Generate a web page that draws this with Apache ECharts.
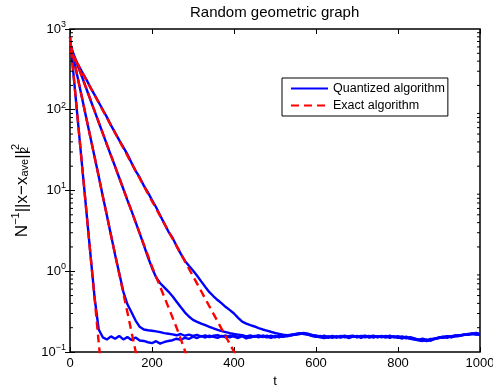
<!DOCTYPE html>
<html><head><meta charset="utf-8">
<script src="https://cdn.jsdelivr.net/npm/echarts@6/dist/echarts.min.js"></script>
<style>html,body{margin:0;padding:0;background:#fff}#c{width:493px;height:387px}</style>
</head><body><div id="c"></div>
<script>
const titleText = 'Random geometric graph';
const xName = 't';
const seriesNames = ['Quantized algorithm', 'Exact algorithm'];
const xTicks = [0, 200, 400, 600, 800, 1000];
const yMajorTicks = [0.1, 1, 10, 100, 1000];
const yMinorTicks = [0.2,0.3,0.4,0.5,0.6,0.7,0.8,0.9, 2,3,4,5,6,7,8,9, 20,30,40,50,60,70,80,90, 200,300,400,500,600,700,800,900];

const tQ = [0,10,20,30,40,50,60,70,80,90,
  100,110,120,130,140,150,160,170,180,190,
  200,210,220,230,240,250,260,270,280,290,
  300,310,320,330,340,350,360,370,380,390,
  400,410,420,430,440,450,460,470,480,490,
  500,510,520,530,540,550,560,570,580,590,
  600,610,620,630,640,650,660,670,680,690,
  700,710,720,730,740,750,760,770,780,790,
  800,810,820,830,840,850,860,870,880,890,
  900,910,920,930,940,950,960,970,980,990,
  1000];

const quantA = [800,229,66,19,5.5,1.6,0.47,0.19,0.152,0.143,
  0.156,0.146,0.158,0.143,0.153,0.141,0.151,0.139,0.137,0.132,
  0.129,0.136,0.127,0.133,0.137,0.140,0.146,0.141,0.150,0.145,
  0.155,0.149,0.158,0.151,0.160,0.154,0.150,0.158,0.152,0.160,
  0.155,0.149,0.157,0.147,0.154,0.158,0.152,0.160,0.155,0.150,
  0.158,0.152,0.160,0.156,0.163,0.163,0.168,0.169,0.164,0.160,
  0.156,0.152,0.149,0.156,0.150,0.157,0.151,0.156,0.149,0.155,
  0.157,0.150,0.156,0.158,0.151,0.157,0.152,0.158,0.150,0.156,
  0.152,0.148,0.155,0.147,0.145,0.142,0.141,0.138,0.145,0.146,
  0.152,0.155,0.150,0.157,0.160,0.160,0.165,0.165,0.170,0.164,
  0.163];
const quantB = [708,400,234,135,78,45,26,15,8.5,4.9,
  2.8,1.6,0.95,0.56,0.39,0.31,0.245,0.205,0.19,0.186,
  0.183,0.180,0.176,0.171,0.168,0.165,0.161,0.167,0.159,0.164,
  0.158,0.163,0.155,0.161,0.153,0.159,0.162,0.155,0.160,0.152,
  0.159,0.154,0.161,0.156,0.151,0.157,0.161,0.156,0.152,0.159,
  0.154,0.160,0.155,0.162,0.163,0.167,0.171,0.167,0.164,0.158,
  0.154,0.158,0.152,0.150,0.156,0.151,0.158,0.152,0.157,0.159,
  0.153,0.158,0.152,0.156,0.159,0.153,0.158,0.154,0.159,0.152,
  0.157,0.152,0.148,0.153,0.147,0.142,0.146,0.141,0.138,0.146,
  0.150,0.151,0.156,0.152,0.158,0.159,0.163,0.164,0.168,0.167,
  0.166];
const quantC = [645,470,340,250,182,132,96,70,51,37,
  27,19.8,14.4,10.5,7.6,5.6,4.05,2.95,2.1,1.5,
  1.1,0.84,0.71,0.63,0.56,0.49,0.42,0.36,0.31,0.275,
  0.25,0.236,0.224,0.215,0.205,0.196,0.188,0.181,0.176,0.171,
  0.167,0.164,0.161,0.156,0.161,0.154,0.159,0.153,0.160,0.154,
  0.152,0.158,0.154,0.160,0.160,0.166,0.167,0.172,0.166,0.163,
  0.157,0.154,0.159,0.153,0.158,0.152,0.156,0.159,0.153,0.157,
  0.152,0.157,0.159,0.153,0.157,0.152,0.156,0.151,0.157,0.153,
  0.150,0.156,0.151,0.146,0.143,0.140,0.137,0.142,0.142,0.147,
  0.149,0.154,0.157,0.153,0.159,0.162,0.162,0.167,0.167,0.172,
  0.168];
const quantD = [550,445,360,290,237,188,153,124,100,81,
  64,52,42,34.5,28,22,17.5,14.5,11.5,9.5,
  7.6,6.2,4.9,3.9,3.1,2.6,2.05,1.65,1.35,1.17,
  1.02,0.88,0.75,0.64,0.55,0.49,0.44,0.40,0.36,0.33,
  0.30,0.265,0.238,0.225,0.215,0.207,0.198,0.190,0.184,0.178,
  0.172,0.168,0.164,0.161,0.164,0.165,0.170,0.171,0.169,0.162,
  0.160,0.155,0.153,0.155,0.154,0.154,0.153,0.155,0.154,0.154,
  0.158,0.153,0.157,0.151,0.156,0.156,0.154,0.155,0.155,0.156,
  0.153,0.148,0.152,0.147,0.146,0.141,0.141,0.136,0.143,0.145,
  0.150,0.150,0.155,0.156,0.157,0.158,0.163,0.163,0.167,0.168,
  0.165];

const tExA = [0,10,20,30,40,50,60,70,80];
const exactA = [800,229,66,19,5.5,1.58,0.46,0.132,0.038];
const tExB = [0,20,40,60,80,100,120,140,160,180];
const exactB = [708,234,78,26,8.5,2.8,0.93,0.31,0.102,0.034];
const tExC = [0,40,80,120,160,200,240,260,280,300];
const exactC = [645,182,51,14.4,4.05,1.14,0.36,0.2,0.105,0.045];
const tExD = [0,50,100,150,200,250,300,350,400,450];
const exactD = [550,188,64,21.8,7.4,2.54,0.87,0.296,0.101,0.034];

const FONT = '"Liberation Sans", Arial, Helvetica, sans-serif';
const pair = (ts, vs) => ts.map((t, i) => [t, vs[i]]);

const quantSets = [[tQ, quantA], [tQ, quantB], [tQ, quantC], [tQ, quantD]];
const exactSets = [[tExA, exactA], [tExB, exactB], [tExC, exactC], [tExD, exactD]];

const series = [];
quantSets.forEach(([ts, vs]) => series.push({
  type: 'line', name: seriesNames[0], data: pair(ts, vs), symbol: 'none',
  xAxisIndex: 0, yAxisIndex: 0, clip: true, z: 2,
  lineStyle: { color: '#0000ff', width: 2.4 }, itemStyle: { color: '#0000ff' }
}));
exactSets.forEach(([ts, vs]) => series.push({
  type: 'line', name: seriesNames[1], data: pair(ts, vs), symbol: 'none',
  xAxisIndex: 0, yAxisIndex: 0, clip: true, z: 3,
  lineStyle: { color: '#ff0000', width: 2.4, type: [8, 5] }, itemStyle: { color: '#ff0000' }
}));
// minor log ticks on left and right frame edges, placed through the axis scales
series.push({
  type: 'custom', xAxisIndex: 0, yAxisIndex: 0, silent: true, clip: false, z: 5,
  data: yMinorTicks.map(v => [xTicks[0], v]),
  encode: { x: 0, y: 1 },
  renderItem: function (params, api) {
    const v = api.value(1);
    const pL = api.coord([xTicks[0], v]);
    const pR = api.coord([xTicks[xTicks.length - 1], v]);
    return { type: 'group', children: [
      { type: 'line', shape: { x1: pL[0], y1: pL[1], x2: pL[0] + 3, y2: pL[1] }, style: { stroke: '#000', lineWidth: 1 } },
      { type: 'line', shape: { x1: pR[0] - 3, y1: pR[1], x2: pR[0], y2: pR[1] }, style: { stroke: '#000', lineWidth: 1 } }
    ] };
  }
});

const yBase = { type: 'log', logBase: 10, min: 0.1, max: 1000, gridIndex: 0,
  splitLine: { show: false }, axisLine: { show: false } };
const tickStyle = { color: '#000', width: 1 };

const option = {
  animation: false,
  backgroundColor: '#fff',
  title: {
    text: titleText, left: 190, top: 5, padding: 0,
    textStyle: { fontFamily: FONT, fontSize: 15, fontWeight: 'normal', color: '#000' }
  },
  legend: {
    data: seriesNames, orient: 'vertical', left: 282, top: 78,
    padding: [4, 3, 4, 8], itemGap: 4, itemWidth: 37, itemHeight: 14,
    backgroundColor: '#fff', borderColor: '#000', borderWidth: 1, borderRadius: 0,
    itemStyle: { opacity: 0 },
    textStyle: { fontFamily: FONT, fontSize: 12.5, color: '#000' }
  },
  grid: { left: 70, right: 13, top: 29, bottom: 35, show: true, borderColor: '#000', borderWidth: 1.5,
    outerBoundsMode: 'none' },
  xAxis: [
    { type: 'value', min: 0, max: 1000, interval: 200, position: 'bottom',
      name: xName, nameLocation: 'middle', nameGap: 18,
      nameTextStyle: { fontFamily: FONT, fontSize: 13, color: '#000' },
      axisLine: { show: false }, splitLine: { show: false },
      axisTick: { inside: true, length: 5, lineStyle: tickStyle },
      axisLabel: { margin: 5, fontFamily: FONT, fontSize: 13, color: '#000', showMaxLabel: true,
        formatter: function (v) { return String(v); } } },
    { type: 'value', min: 0, max: 1000, interval: 200, position: 'top',
      axisLine: { show: false }, splitLine: { show: false },
      axisTick: { inside: true, length: 5, lineStyle: tickStyle }, axisLabel: { show: false } }
  ],
  yAxis: [
    Object.assign({}, yBase, { position: 'left',
      name: '{n|N}{p|−1}{n|||x−x}{q|ave}{n|||}{q2|2}{p|2}',
      nameLocation: 'middle', nameGap: 35, nameRotate: 90,
      nameTextStyle: { fontFamily: FONT, fontSize: 17, color: '#000',
        rich: {
          n: { fontFamily: FONT, fontSize: 17, color: '#000' },
          p: { fontFamily: FONT, fontSize: 11, color: '#000', padding: [0, 0, 11, 0] },
          q: { fontFamily: FONT, fontSize: 11, color: '#000', padding: [6, 0, 0, 0] },
          q2: { fontFamily: FONT, fontSize: 11, color: '#000', padding: [6, 0, 0, 0], width: 0, align: 'left' }
        } },
      axisTick: { inside: true, length: 5, lineStyle: tickStyle },
      axisLabel: { margin: 4, fontFamily: FONT, color: '#000',
        formatter: function (v) {
          const e = Math.round(Math.log10(v));
          return '{b|10}{s|' + (e < 0 ? '−' + (-e) : e) + '}';
        },
        rich: {
          b: { fontFamily: FONT, fontSize: 13, color: '#000' },
          s: { fontFamily: FONT, fontSize: 9, color: '#000', padding: [0, 0, 9, 0] }
        } } }),
    Object.assign({}, yBase, { position: 'right',
      axisTick: { inside: true, length: 5, lineStyle: tickStyle }, axisLabel: { show: false } })
  ],
  series: series
};

const chart = echarts.init(document.getElementById('c'), null, { renderer: 'canvas' });
chart.setOption(option);
</script></body></html>
